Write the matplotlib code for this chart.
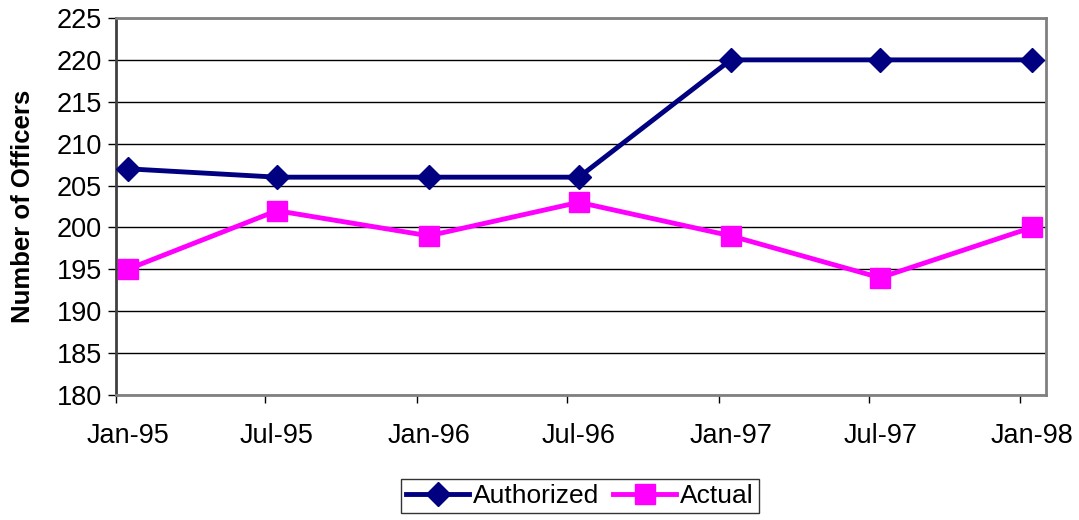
import pandas as pd
import matplotlib.pyplot as plt

plt.rcParams['font.family'] = ['Liberation Sans', 'DejaVu Sans']

# data points sit mid-month on the date axis
dates = pd.to_datetime(["1995-01-15", "1995-07-15", "1996-01-15", "1996-07-15",
                        "1997-01-15", "1997-07-15", "1998-01-15"])
tick_dates = pd.to_datetime(["1995-01-01", "1995-07-01", "1996-01-01", "1996-07-01",
                             "1997-01-01", "1997-07-01", "1998-01-01"])
tick_labels = ["Jan-95", "Jul-95", "Jan-96", "Jul-96", "Jan-97", "Jul-97", "Jan-98"]
authorized = [207, 206, 206, 206, 220, 220, 220]
actual = [195, 202, 199, 203, 199, 194, 200]

fig = plt.figure(figsize=(10.79, 5.2), dpi=100)
ax = fig.add_axes([0.1075, 0.2404, 0.8619, 0.725])

ax.plot(dates, authorized, color='#000080', lw=3.5, marker='D', ms=12,
        label='Authorized', zorder=3)
ax.plot(dates, actual, color='#FF00FF', lw=3.5, marker='s', ms=15,
        label='Actual', zorder=3)

ax.set_ylim(180, 225)
ax.set_yticks(range(180, 226, 5))
ax.set_xlim(pd.Timestamp("1995-01-01"), pd.Timestamp("1998-02-01"))
# tick marks on month start, labels centred under the points
ax.set_xticks(tick_dates)
ax.set_xticklabels([])
ax.set_xticks(dates, minor=True)
ax.set_xticklabels(tick_labels, minor=True)

ax.grid(axis='y', color='black', lw=1)
ax.set_axisbelow(True)
for side in ['top', 'right', 'bottom']:
    ax.spines[side].set_color('#808080')
    ax.spines[side].set_linewidth(2)
ax.spines['left'].set_color('#404040')
ax.spines['left'].set_linewidth(2)

ax.tick_params(axis='both', labelsize=19.5, colors='black', length=6, width=1)
ax.tick_params(axis='x', which='minor', length=0, pad=20, labelsize=19.5)
ax.tick_params(axis='y', pad=4)
ax.set_ylabel('Number of Officers', fontsize=18.5, fontweight='bold', labelpad=16)

leg = fig.legend(loc='upper center', bbox_to_anchor=(0.5375, 0.079), ncol=2,
                 fontsize=19, frameon=True, fancybox=False, edgecolor='black',
                 handlelength=2.4, columnspacing=0.5, handletextpad=0.15,
                 borderpad=0.2, borderaxespad=0)
leg.get_frame().set_linewidth(1)

fig.savefig('out.png', dpi=100)
